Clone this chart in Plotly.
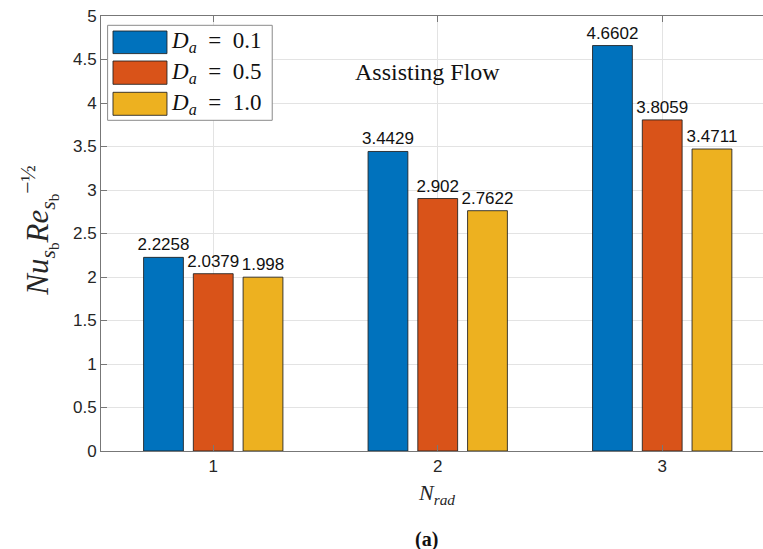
import plotly.graph_objects as go

categories = [1, 2, 3]
series_names = ["D_a = 0.1", "D_a = 0.5", "D_a = 1.0"]
legend_labels = ["<i>D</i><sub><i>a</i></sub>  =  0.1",
                 "<i>D</i><sub><i>a</i></sub>  =  0.5",
                 "<i>D</i><sub><i>a</i></sub>  =  1.0"]
da_01 = [2.2258, 3.4429, 4.6602]
da_05 = [2.0379, 2.902, 3.8059]
da_10 = [1.998, 2.7622, 3.4711]
colors = ["#0072BD", "#D95319", "#EDB120"]
y_ticks = [0, 0.5, 1, 1.5, 2, 2.5, 3, 3.5, 4, 4.5, 5]

W, H = 763, 549
L, T, B = 100.7, 15.7, 450.7
pw, ph = W - L, B - T


def px(x):
    return (x - L) / pw


def py(y):
    return (B - y) / ph


fig = go.Figure()
for name, vals, col in zip(series_names, [da_01, da_05, da_10], colors):
    fig.add_trace(go.Bar(
        x=categories, y=vals, name=name,
        marker=dict(color=col, line=dict(color="rgba(30,30,30,0.85)", width=1)),
        text=[str(v) for v in vals], textposition="outside",
        textangle=0, constraintext="none", cliponaxis=False,
        textfont=dict(family="Liberation Sans, Arial", size=17, color="#111111"),
        showlegend=False, hoverinfo="skip",
    ))

axis_col = "#777777"
fig.update_layout(
    width=W, height=H,
    margin=dict(l=L, r=0, t=T, b=H - B),
    paper_bgcolor="white", plot_bgcolor="white",
    barmode="group", bargap=0.335, bargroupgap=0.2,
    font=dict(family="Liberation Sans, Arial", size=17, color="#262626"),
    xaxis=dict(range=[0.5, 3.449], tickvals=categories, ticktext=[str(c) for c in categories],
               showgrid=True, gridcolor="#e3e3e3", gridwidth=1,
               showline=True, linecolor=axis_col, linewidth=1, mirror="ticks",
               ticks="inside", ticklen=6, tickcolor=axis_col, zeroline=False,
               tickfont=dict(size=17, color="#262626")),
    yaxis=dict(range=[0, 5], tickvals=y_ticks, ticktext=[f"{v:g}" for v in y_ticks],
               showgrid=True, gridcolor="#e3e3e3", gridwidth=1,
               showline=True, linecolor=axis_col, linewidth=1, mirror=False,
               ticks="inside", ticklen=6, tickcolor=axis_col, zeroline=False,
               tickfont=dict(size=17, color="#262626")),
)

serif = "Liberation Serif, Times New Roman, serif"
annotations = [
    dict(text="<i>Nu</i><sub><i>s</i><sub>b</sub></sub><i>Re</i><sub><i>s</i><sub>b</sub></sub><sup>−½</sup>",
         x=px(39), y=py(230), textangle=-90,
         font=dict(family=serif, size=31, color="#262626")),
    dict(text="<i>N</i><sub><i>rad</i></sub>", x=px(436), y=py(494),
         font=dict(family=serif, size=22, color="#262626")),
    dict(text="<b>(a)</b>", x=px(426), y=py(539),
         font=dict(family=serif, size=20, color="#111111")),
    dict(text="Assisting Flow", x=px(427.5), y=py(71.7),
         font=dict(family=serif, size=24, color="#111111")),
]
for a in annotations:
    a.update(xref="paper", yref="paper", xanchor="center", yanchor="middle", showarrow=False)

shapes = [dict(type="rect", xref="paper", yref="paper",
               x0=px(107.3), x1=px(272), y0=py(120), y1=py(25),
               line=dict(color="#8a8a8a", width=1), fillcolor="white", layer="above")]
rows = [(30.7, 53.3), (60.7, 84), (92, 115)]
for (top, bot), col, lab in zip(rows, colors, legend_labels):
    shapes.append(dict(type="rect", xref="paper", yref="paper",
                       x0=px(112.7), x1=px(166.7), y0=py(bot), y1=py(top),
                       line=dict(color="rgba(30,30,30,0.85)", width=1), fillcolor=col, layer="above"))
    annotations.append(dict(text=lab, x=px(169), y=py((top + bot) / 2), xref="paper", yref="paper",
                            xanchor="left", yanchor="middle", showarrow=False,
                            font=dict(family=serif, size=23, color="#111111")))

fig.update_layout(shapes=shapes, annotations=annotations)
fig.write_html("out.html", config={"displayModeBar": False},
               post_script="document.body.style.margin='0';document.body.style.overflow='hidden';")
